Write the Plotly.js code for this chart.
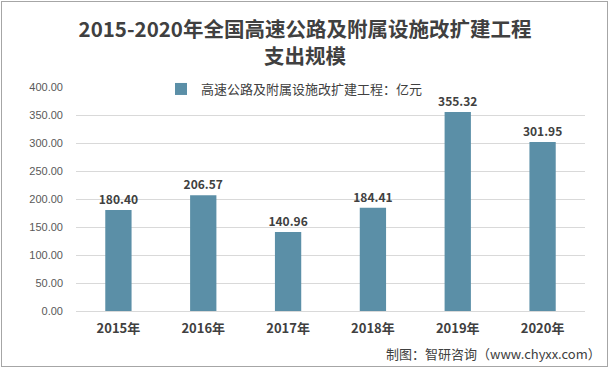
<!DOCTYPE html>
<html><head><meta charset="utf-8">
<script src="https://cdn.plot.ly/plotly-3.0.1.min.js"></script>
<style>html,body{margin:0;padding:0;background:#fff}#wrap{position:relative;width:610px;height:369px}#c{width:610px;height:369px}
#frame{position:absolute;left:1px;top:1px;width:605px;height:364px;border:1px solid #a6a6a6;pointer-events:none}</style>
</head><body><div id="wrap"><div id="c"></div><div id="frame"></div></div>
<script>
const years = ['2015年','2016年','2017年','2018年','2019年','2020年'];
const values = [180.40, 206.57, 140.96, 184.41, 355.32, 301.95];
const seriesName = '高速公路及附属设施改扩建工程：亿元';
const yTicks = [0,50,100,150,200,250,300,350,400];

const font = '"Microsoft YaHei","Noto Sans CJK SC","Noto Sans",sans-serif';
const trace = {
  type:'bar', x: years, y: values, name: seriesName,
  marker:{color:'#5b8fa7'},
  text: values.map(v=>v.toFixed(2)), textposition:'outside', constraintext:'none',
  textfont:{family:font, size:12, color:'#404040', weight:'bold'},
  cliponaxis:false, showlegend:true
};
const layout = {
  width:610, height:369,
  margin:{l:76, r:25, t:87, b:58},
  paper_bgcolor:'#fff', plot_bgcolor:'#fff',
  title:{text:'<b>2015-2020年全国高速公路及附属设施改扩建工程<br>支出规模</b>',
    x:0.5, xanchor:'center', yref:'container', y:0.90, yanchor:'top',
    font:{family:font, size:20.5, color:'#404040'}},
  bargap:0.69,
  showlegend:true,
  legend:{orientation:'h', x:0.167, xanchor:'left', y:0.991, yanchor:'middle',
    font:{family:font, size:13, color:'#404040'}, bgcolor:'#ffffff'},
  xaxis:{tickfont:{family:font, size:13, color:'#404040', weight:'bold'},
    showline:false, ticks:'', ticklabelstandoff:8, fixedrange:true},
  yaxis:{range:[0,400], tickvals:yTicks, ticktext:yTicks.map(v=>v.toFixed(2)),
    tickfont:{family:'"Liberation Sans",Arial,sans-serif', size:11, color:'#595959'},
    gridcolor:'#d9d9d9', zeroline:true, zerolinecolor:'#d9d9d9', showline:false, ticks:'', ticklabelstandoff:12},
  annotations:[{text:'制图：智研咨询（www.chyxx.com）', xref:'paper', yref:'paper',
    x:1.035, xanchor:'right', y:-0.19, yanchor:'middle', showarrow:false,
    font:{family:font, size:13, color:'#404040'}}]
};
Plotly.newPlot('c',[trace],layout,{displayModeBar:false, staticPlot:true});
</script></body></html>
